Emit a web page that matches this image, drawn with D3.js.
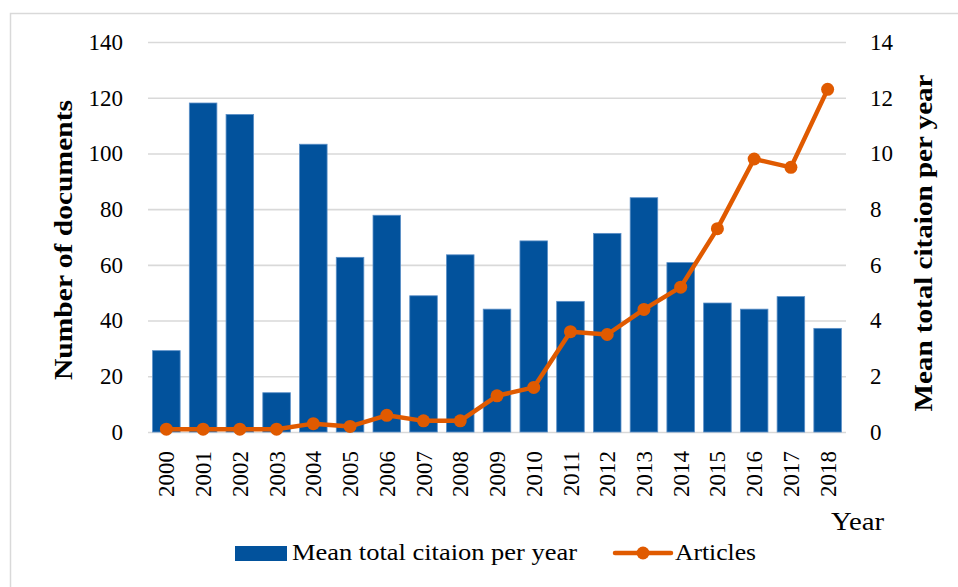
<!DOCTYPE html>
<html>
<head>
<meta charset="utf-8">
<script src="https://cdn.jsdelivr.net/npm/d3@7"></script>
<style>
  body { margin: 0; background: #fff; }
  text { font-family: "Liberation Serif", serif; fill: #000; }
</style>
</head>
<body>
<svg id="chart" width="958" height="587"></svg>
<script>
// data
const years = ["2000","2001","2002","2003","2004","2005","2006","2007","2008","2009",
               "2010","2011","2012","2013","2014","2015","2016","2017","2018"];
// mean total citation per year (right axis)
const meanCitation = [2.92, 11.81, 11.4, 1.41, 10.33, 6.27, 7.78, 4.89, 6.36, 4.41,
                      6.86, 4.69, 7.13, 8.41, 6.08, 4.63, 4.41, 4.86, 3.72];
// articles, number of documents (left axis)
const articles = [1, 1, 1, 1, 3, 2, 6, 4, 4, 13, 16, 36, 35, 44, 52, 73, 98, 95, 123];
const leftTicks = [0, 20, 40, 60, 80, 100, 120, 140];
const rightTicks = [0, 2, 4, 6, 8, 10, 12, 14];

const blue = "#02529c", orange = "#e05a00", grid = "#d9d9d9";

const svg = d3.select("#chart");
const margin = { top: 42, right: 112, bottom: 155, left: 148 };
const width = 958 - margin.left - margin.right;
const height = 587 - margin.top - margin.bottom;

// outer frame
svg.append("rect")
    .attr("x", 10.5).attr("y", 13.5)
    .attr("width", 980).attr("height", 600)
    .attr("fill", "none").attr("stroke", grid).attr("stroke-width", 1.5);

const g = svg.append("g").attr("transform", "translate(" + margin.left + "," + margin.top + ")");

const x = d3.scaleBand().domain(years).range([0, width]).paddingInner(0.25).paddingOuter(0.125);
const yLeft = d3.scaleLinear().domain([0, 140]).range([height, 0]);
const yRight = d3.scaleLinear().domain([0, 14]).range([height, 0]);

// gridlines
g.append("g")
    .call(d3.axisLeft(yLeft).tickValues(leftTicks).tickSize(-width).tickFormat(""))
    .call(s => s.select(".domain").remove())
    .call(s => s.selectAll("line").attr("stroke", grid).attr("stroke-width", 1.6));

// bars
g.selectAll(".bar")
    .data(meanCitation)
    .enter()
    .append("rect")
        .attr("class", "bar")
        .attr("x", (d, i) => x(years[i]))
        .attr("y", d => yRight(d))
        .attr("width", x.bandwidth())
        .attr("height", d => height - yRight(d))
        .attr("fill", blue)
        .attr("stroke", "#5b8fc7")
        .attr("stroke-width", 0.8);

// line
const line = d3.line()
    .x((d, i) => x(years[i]) + x.bandwidth() / 2)
    .y(d => yLeft(d));

g.append("path")
    .datum(articles)
    .attr("d", line)
    .attr("fill", "none")
    .attr("stroke", orange)
    .attr("stroke-width", 4.5)
    .attr("stroke-linejoin", "round");

g.selectAll(".dot")
    .data(articles)
    .enter()
    .append("circle")
        .attr("class", "dot")
        .attr("cx", (d, i) => x(years[i]) + x.bandwidth() / 2)
        .attr("cy", d => yLeft(d))
        .attr("r", 6.5)
        .attr("fill", orange);

// left axis
g.append("g")
    .call(d3.axisLeft(yLeft).tickValues(leftTicks).tickSize(0).tickPadding(25))
    .call(s => s.select(".domain").remove())
    .call(s => s.selectAll("text").attr("font-size", 23).style("font-family", "Liberation Serif"));

// right axis
g.append("g")
    .attr("transform", "translate(" + width + ",0)")
    .call(d3.axisRight(yRight).tickValues(rightTicks).tickSize(0).tickPadding(24))
    .call(s => s.select(".domain").remove())
    .call(s => s.selectAll("text").attr("font-size", 23).style("font-family", "Liberation Serif"));

// x axis
g.append("g")
    .attr("transform", "translate(0," + height + ")")
    .call(d3.axisBottom(x).tickSize(0))
    .call(s => s.select(".domain").remove())
    .call(s => s.selectAll("text")
        .attr("font-size", 23)
        .style("font-family", "Liberation Serif")
        .attr("text-anchor", "end")
        .attr("transform", "rotate(-90)")
        .attr("x", -19)
        .attr("y", 0)
        .attr("dy", "0.35em"));

// axis titles
svg.append("text")
    .attr("transform", "translate(72,240) rotate(-90)")
    .attr("text-anchor", "middle")
    .attr("font-size", 26)
    .attr("font-weight", "bold")
    .attr("textLength", 280)
    .attr("lengthAdjust", "spacingAndGlyphs")
    .text("Number of documents");

svg.append("text")
    .attr("transform", "translate(932,243) rotate(-90)")
    .attr("text-anchor", "middle")
    .attr("font-size", 26)
    .attr("font-weight", "bold")
    .attr("textLength", 337)
    .attr("lengthAdjust", "spacingAndGlyphs")
    .text("Mean total citaion per year");

svg.append("text")
    .attr("x", 884).attr("y", 530)
    .attr("text-anchor", "end")
    .attr("font-size", 26)
    .attr("textLength", 53)
    .attr("lengthAdjust", "spacingAndGlyphs")
    .text("Year");

// legend
const legend = svg.append("g");
legend.append("rect")
    .attr("x", 235).attr("y", 546).attr("width", 52).attr("height", 15)
    .attr("fill", blue);
legend.append("text")
    .attr("x", 292).attr("y", 560)
    .attr("font-size", 24)
    .attr("textLength", 285)
    .attr("lengthAdjust", "spacingAndGlyphs")
    .text("Mean total citaion per year");
legend.append("line")
    .attr("x1", 615).attr("x2", 671).attr("y1", 553).attr("y2", 553)
    .attr("stroke", orange).attr("stroke-width", 4.5).attr("stroke-linecap", "round");
legend.append("circle")
    .attr("cx", 643).attr("cy", 553).attr("r", 6.5).attr("fill", orange);
legend.append("text")
    .attr("x", 675).attr("y", 560)
    .attr("font-size", 24)
    .attr("textLength", 81)
    .attr("lengthAdjust", "spacingAndGlyphs")
    .text("Articles");
</script>
</body>
</html>
